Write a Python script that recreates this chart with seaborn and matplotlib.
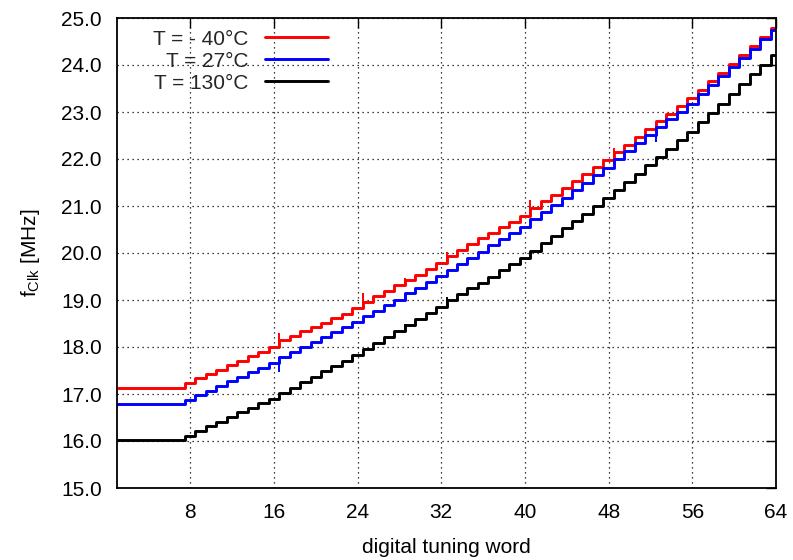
import numpy as np
import pandas as pd
import matplotlib
matplotlib.use("Agg")
import matplotlib.pyplot as plt
import seaborn as sns
from matplotlib.ticker import FormatStrFormatter, MultipleLocator

# ---- data ----
words = list(range(1, 65))

f_m40 = [17.13, 17.13, 17.13, 17.13, 17.13, 17.13, 17.13,
         17.23, 17.33, 17.42, 17.52, 17.61, 17.71, 17.80, 17.90, 18.00,
         18.14, 18.23, 18.33, 18.42, 18.52, 18.61, 18.71, 18.82,
         18.96, 19.08, 19.19, 19.31, 19.43, 19.54, 19.66, 19.78,
         19.94, 20.06, 20.19, 20.31, 20.43, 20.55, 20.67, 20.79,
         20.95, 21.10, 21.24, 21.39, 21.54, 21.68, 21.83, 21.98,
         22.14, 22.30, 22.47, 22.63, 22.80, 22.96, 23.13, 23.29,
         23.47, 23.65, 23.83, 24.02, 24.21, 24.40, 24.59, 24.78]

f_27 = [16.78, 16.78, 16.78, 16.78, 16.78, 16.78, 16.78,
        16.87, 16.97, 17.07, 17.17, 17.27, 17.37, 17.47, 17.56, 17.66,
        17.79, 17.89, 18.00, 18.10, 18.21, 18.32, 18.43, 18.54,
        18.65, 18.77, 18.89, 19.01, 19.14, 19.26, 19.39, 19.51,
        19.64, 19.77, 19.90, 20.03, 20.16, 20.29, 20.43, 20.56,
        20.72, 20.87, 21.03, 21.18, 21.34, 21.49, 21.65, 21.80,
        21.99, 22.17, 22.34, 22.51, 22.68, 22.85, 23.01, 23.18,
        23.38, 23.57, 23.76, 23.95, 24.15, 24.35, 24.55, 24.74]

f_130 = [16.02, 16.02, 16.02, 16.02, 16.02, 16.02, 16.02,
         16.11, 16.21, 16.31, 16.41, 16.51, 16.61, 16.71, 16.80, 16.90,
         17.02, 17.13, 17.25, 17.37, 17.48, 17.60, 17.71, 17.83,
         17.95, 18.08, 18.21, 18.34, 18.47, 18.60, 18.73, 18.86,
         18.99, 19.12, 19.25, 19.37, 19.50, 19.63, 19.76, 19.89,
         20.05, 20.21, 20.37, 20.53, 20.69, 20.84, 21.00, 21.16,
         21.33, 21.51, 21.69, 21.87, 22.05, 22.22, 22.40, 22.58,
         22.78, 22.98, 23.18, 23.39, 23.59, 23.80, 24.00, 24.21]

# short measurement glitches (position, start value, end value)
glitch_m40_x = [16.5, 24.5, 28.5, 32.5, 40.5, 48.5, 52.5]
glitch_m40_lo = [18.00, 18.82, 19.31, 19.78, 20.79, 21.98, 22.63]
glitch_m40_hi = [18.30, 19.15, 19.46, 20.02, 21.12, 22.24, 22.78]
glitch_27_x = [16.5, 28.5, 52.5]
glitch_27_lo = [17.47, 19.01, 22.36]
glitch_27_hi = [17.79, 19.15, 22.51]
glitch_130_x = [28.5, 32.5]
glitch_130_lo = [18.34, 18.86]
glitch_130_hi = [18.50, 19.06]

labels = ["T = - 40°C", "T = 27°C", "T = 130°C"]
colors = ["#ff0000", "#0000ff", "#000000"]
x_ticks = [8, 16, 24, 32, 40, 48, 56, 64]

df = pd.DataFrame({
    "word": words * 3,
    "freq": f_m40 + f_27 + f_130,
    "temp": [labels[0]] * 64 + [labels[1]] * 64 + [labels[2]] * 64,
})

# ---- style ----
sns.set_theme(style="white")
plt.rcParams["font.family"] = ["Liberation Sans", "DejaVu Sans"]
plt.rcParams["mathtext.fontset"] = "custom"
plt.rcParams["mathtext.rm"] = "Liberation Sans"
plt.rcParams["mathtext.it"] = "Liberation Sans"

fig = plt.figure(figsize=(7.93, 5.60), dpi=100)
ax = fig.add_axes([117 / 793, 1 - 488 / 560, (776 - 117) / 793, (488 - 18) / 560])

glitches = [(glitch_m40_x, glitch_m40_lo, glitch_m40_hi),
            (glitch_27_x, glitch_27_lo, glitch_27_hi),
            (glitch_130_x, glitch_130_lo, glitch_130_hi)]

for lab, col, (gx, glo, ghi) in zip(labels, colors, glitches):
    sub = df[df["temp"] == lab]
    sns.lineplot(data=sub, x="word", y="freq", color=col,
                 drawstyle="steps-mid", linewidth=2.1, legend=False,
                 ax=ax, sort=True)
    ax.vlines(gx, glo, ghi, colors=col, linewidth=1.4)

ax.set_xlim(1, 64)
ax.set_ylim(15, 25)
ax.set_xticks(x_ticks)
ax.yaxis.set_major_locator(MultipleLocator(1.0))
ax.yaxis.set_major_formatter(FormatStrFormatter("%.1f"))

ax.grid(True, color="black", linestyle=(0, (1, 3)), linewidth=0.9)
ax.set_axisbelow(True)
for s in ax.spines.values():
    s.set_visible(True)
    s.set_color("black")
    s.set_linewidth(1.3)

ax.tick_params(axis="both", which="major", direction="in", length=7,
               width=1.0, color="black", top=True, right=True,
               labelsize=15, pad=11, labelcolor="black")

ax.set_xlabel("digital tuning word", fontsize=15, color="black", labelpad=11)
ax.set_ylabel(r"f$_{\mathrm{Clk}}$ [MHz]", fontsize=15, color="black", labelpad=14)

handles = [plt.Line2D([], [], color=c, linewidth=2.1) for c in colors]
ax.legend(handles, labels, loc="upper right", bbox_to_anchor=(0.32, 0.975),
          frameon=False, markerfirst=False, fontsize=15, handlelength=3.0,
          handletextpad=0.8, labelspacing=0.14, borderpad=0.0, borderaxespad=0.0)

fig.savefig("out.png", dpi=100)
